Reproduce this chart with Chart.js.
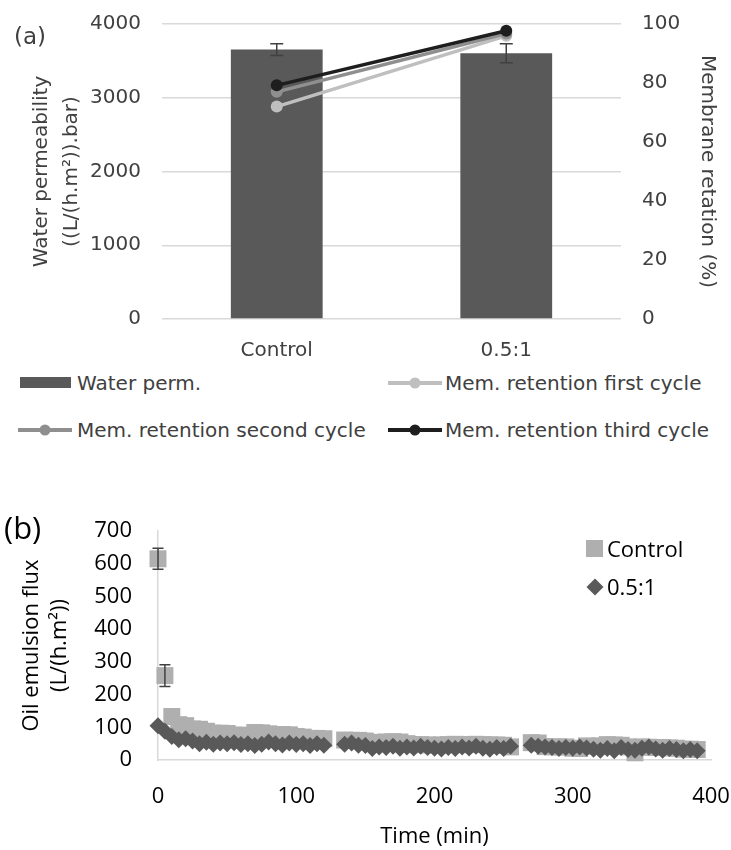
<!DOCTYPE html>
<html>
<head>
<meta charset="utf-8">
<script src="https://cdn.jsdelivr.net/npm/chart.js@4.4.1/dist/chart.umd.min.js"></script>
<style>
  body { margin: 0; background: #fff; }
  #wrap { position: relative; width: 731px; height: 850px; overflow: hidden; }
  .box { position: absolute; }
  .txt { position: absolute; white-space: nowrap; line-height: 1; }
  .a { font-family: "DejaVu Sans"; font-size: 20px; color: #404040; }
  .b { font-family: "Open Sans"; font-size: 22px; color: #000; }
</style>
</head>
<body>
<div id="wrap">
  <div class="box" style="left:0;top:0;width:731px;height:365px"><canvas id="chartA"></canvas></div>
  <div class="txt a" style="left:14px;top:25px;font-size:23px">(a)</div>

  <div class="box" style="left:20px;top:377px;width:51px;height:11px;background:#595959"></div>
  <div class="txt a" style="left:77px;top:373px">Water perm.</div>
  <svg class="box" style="left:388px;top:375px" width="54" height="16"><line x1="0" y1="8" x2="54" y2="8" stroke="#bfbfbf" stroke-width="4"/><circle cx="27" cy="8" r="5.5" fill="#bfbfbf"/></svg>
  <div class="txt a" style="left:445px;top:373px">Mem. retention first cycle</div>

  <svg class="box" style="left:18px;top:422px" width="54" height="16"><line x1="0" y1="8" x2="54" y2="8" stroke="#8f8f8f" stroke-width="4"/><circle cx="27" cy="8" r="5.5" fill="#8f8f8f"/></svg>
  <div class="txt a" style="left:77px;top:420px">Mem. retention second cycle</div>
  <svg class="box" style="left:388px;top:422px" width="54" height="16"><line x1="0" y1="8" x2="54" y2="8" stroke="#1e1e1e" stroke-width="4"/><circle cx="27" cy="8" r="5.5" fill="#1e1e1e"/></svg>
  <div class="txt a" style="left:445px;top:420px">Mem. retention third cycle</div>

  <div class="box" style="left:0;top:500px;width:731px;height:350px"><canvas id="chartB"></canvas></div>
  <div class="txt b" style="left:4px;top:512px;font-size:31px">(b)</div>

  <div class="box" style="left:586px;top:540px;width:17px;height:17px;background:#afafaf"></div>
  <div class="txt b" style="left:607px;top:537px">Control</div>
  <div class="box" style="left:588.5px;top:581px;width:12px;height:12px;background:#595959;transform:rotate(45deg)"></div>
  <div class="txt b" style="left:607px;top:575px">0.5:1</div>
</div>
<script>
// (a) water permeability and retention
const categories = ["Control", "0.5:1"];
const waterPerm = [3653, 3603];
const waterPermErr = [80, 130];
const retentionFirst = [72, 96];
const retentionSecond = [77, 96.8];
const retentionThird = [79.2, 97.7];

// (b) oil emulsion flux over time, three cycles
const times = [
  0, 5, 10, 15, 20, 25, 30, 35, 40, 45, 50, 55, 60, 65, 70, 75, 80, 85, 90, 95, 100, 105, 110, 115, 120,
  135, 140, 145, 150, 155, 160, 165, 170, 175, 180, 185, 190, 195, 200, 205, 210, 215, 220, 225, 230, 235, 240, 245, 250, 255,
  270, 275, 280, 285, 290, 295, 300, 305, 310, 315, 320, 325, 330, 335, 340, 345, 350, 355, 360, 365, 370, 375, 380, 385, 390
];
const fluxControl = [
  615, 258, 133, 108, 105, 95, 94, 88, 82, 82, 81, 76, 76, 75, 84, 83, 80, 76, 78, 77, 72, 70, 66, 66, 65,
  61, 60, 60, 58, 53, 54, 55, 56, 55, 50, 47, 47, 46, 45, 46, 47, 48, 47, 47, 48, 47, 46, 46, 45, 40,
  53, 52, 41, 40, 40, 40, 36, 35, 43, 42, 43, 47, 46, 45, 40, 22, 40, 39, 38, 38, 37, 36, 33, 33, 32
];
const fluxControlErr = [32, 33];
const fluxRatio = [
  105, 88, 72, 62, 65, 58, 50, 54, 48, 52, 50, 53, 47, 50, 44, 48, 55, 50, 46, 52, 47, 50, 44, 50, 45,
  48, 52, 45, 44, 35, 40, 38, 42, 36, 40, 37, 42, 38, 36, 34, 38, 35, 40, 37, 42, 36, 33, 38, 35, 42,
  45, 42, 40, 38, 35, 38, 36, 40, 37, 33, 30, 35, 28, 38, 32, 30, 36, 40, 34, 30, 35, 32, 28, 32, 28
];

const errorBars = {
  id: "errorBars",
  afterDatasetDraw(chart, args) {
    const ds = chart.data.datasets[args.index];
    if (!ds.errors) return;
    const ctx = chart.ctx;
    const yScale = chart.scales[args.meta.yAxisID];
    ctx.save();
    ctx.strokeStyle = "#404040";
    ctx.lineWidth = 1.5;
    args.meta.data.forEach((el, i) => {
      const e = ds.errors[i];
      if (!e) return;
      const v = typeof ds.data[i] === "object" ? ds.data[i].y : ds.data[i];
      const top = yScale.getPixelForValue(v + e);
      const bot = yScale.getPixelForValue(v - e);
      const w = ds.capWidth / 2;
      ctx.beginPath();
      ctx.moveTo(el.x, top); ctx.lineTo(el.x, bot);
      ctx.moveTo(el.x - w, top); ctx.lineTo(el.x + w, top);
      ctx.moveTo(el.x - w, bot); ctx.lineTo(el.x + w, bot);
      ctx.stroke();
    });
    ctx.restore();
  }
};

const plain = (v) => String(v);
// fixed axis sizes, so the layout padding alone places the plot area
const fixW = (w) => (s) => { s.width = w; s.paddingTop = 0; s.paddingBottom = 0; };
const fixH = (h) => (s) => { s.height = h; s.paddingLeft = 0; s.paddingRight = 0; };

const fontA = { family: "DejaVu Sans", size: 20 };
const lineSet = (label, data, color, order) => ({
  type: "line",
  label: label,
  data: data,
  yAxisID: "y1",
  borderColor: color,
  backgroundColor: color,
  borderWidth: 3.5,
  pointRadius: 6,
  pointBorderWidth: 0,
  order: order
});

new Chart(document.getElementById("chartA"), {
  type: "bar",
  data: {
    labels: categories,
    datasets: [
      {
        label: "Water perm.",
        data: waterPerm,
        errors: waterPermErr,
        capWidth: 13,
        backgroundColor: "#595959",
        barPercentage: 1,
        categoryPercentage: 0.4,
        yAxisID: "y",
        order: 10
      },
      lineSet("Mem. retention first cycle", retentionFirst, "#bfbfbf", 3),
      lineSet("Mem. retention second cycle", retentionSecond, "#8f8f8f", 2),
      lineSet("Mem. retention third cycle", retentionThird, "#1e1e1e", 1)
    ]
  },
  options: {
    responsive: true,
    maintainAspectRatio: false,
    animation: false,
    layout: { autoPadding: false, padding: { top: 24, left: 0, right: 0, bottom: 0 } },
    plugins: { legend: { display: false }, tooltip: { enabled: false } },
    scales: {
      x: {
        grid: { display: false },
        border: { display: false },
        ticks: { font: fontA, color: "#404040", padding: 12 },
        afterFit: fixH(46)
      },
      y: {
        position: "left",
        min: 0,
        max: 4000,
        ticks: { stepSize: 1000, font: fontA, color: "#404040", padding: 21, callback: plain },
        grid: { color: "#d9d9d9", lineWidth: 1.5, drawTicks: false },
        border: { display: false },
        title: {
          display: true,
          text: ["Water permeability", "((L/(h.m\u00b2)).bar)"],
          font: { family: "DejaVu Sans", size: 20, lineHeight: 1.5 },
          color: "#404040",
          padding: { top: 27, bottom: 0 }
        },
        afterFit: fixW(162)
      },
      y1: {
        position: "right",
        min: 0,
        max: 100,
        ticks: { stepSize: 20, font: fontA, color: "#404040", padding: 21, callback: plain },
        grid: { display: false, drawTicks: false },
        border: { display: false },
        title: {
          display: true,
          text: "Membrane retation (%)",
          font: { family: "DejaVu Sans", size: 20, lineHeight: 1.5 },
          color: "#404040",
          padding: { top: 9, bottom: 0 }
        },
        afterFit: fixW(110)
      }
    }
  },
  plugins: [errorBars]
});

const fontB = { family: "Open Sans", size: 22 };
new Chart(document.getElementById("chartB"), {
  type: "scatter",
  data: {
    datasets: [
      {
        label: "Control",
        data: times.map((t, i) => ({ x: t, y: fluxControl[i] })),
        errors: fluxControlErr,
        capWidth: 11,
        pointStyle: "rect",
        pointRadius: 12,
        pointBorderWidth: 0,
        backgroundColor: "#afafaf",
        clip: false,
        order: 2
      },
      {
        label: "0.5:1",
        data: times.map((t, i) => ({ x: t, y: fluxRatio[i] })),
        pointStyle: "rectRot",
        pointRadius: 8.5,
        pointBorderWidth: 0,
        backgroundColor: "#595959",
        clip: false,
        order: 1
      }
    ]
  },
  options: {
    responsive: true,
    maintainAspectRatio: false,
    animation: false,
    layout: { autoPadding: false, padding: { top: 31, left: 0, right: 20, bottom: 0 } },
    plugins: { legend: { display: false }, tooltip: { enabled: false } },
    scales: {
      x: {
        type: "linear",
        min: 0,
        max: 400,
        ticks: { stepSize: 100, font: fontB, color: "#000", padding: 24, callback: plain },
        grid: { display: false, drawTicks: false },
        border: { color: "#d9d9d9", width: 1.5 },
        title: {
          display: true,
          text: "Time (min)",
          font: fontB,
          color: "#000",
          padding: { top: 0, bottom: 0 }
        },
        afterFit: fixH(90)
      },
      y: {
        min: 0,
        max: 700,
        ticks: { stepSize: 100, font: fontB, color: "#000", padding: 26, callback: plain },
        grid: { display: false, drawTicks: false },
        border: { color: "#d9d9d9", width: 1.5 },
        title: {
          display: true,
          text: ["Oil emulsion flux", "(L/(h.m\u00b2))"],
          font: { family: "Open Sans", size: 22, lineHeight: 1.25 },
          color: "#000",
          padding: { top: 18, bottom: 0 }
        },
        afterFit: fixW(158)
      }
    }
  },
  plugins: [errorBars]
});
</script>
</body>
</html>
